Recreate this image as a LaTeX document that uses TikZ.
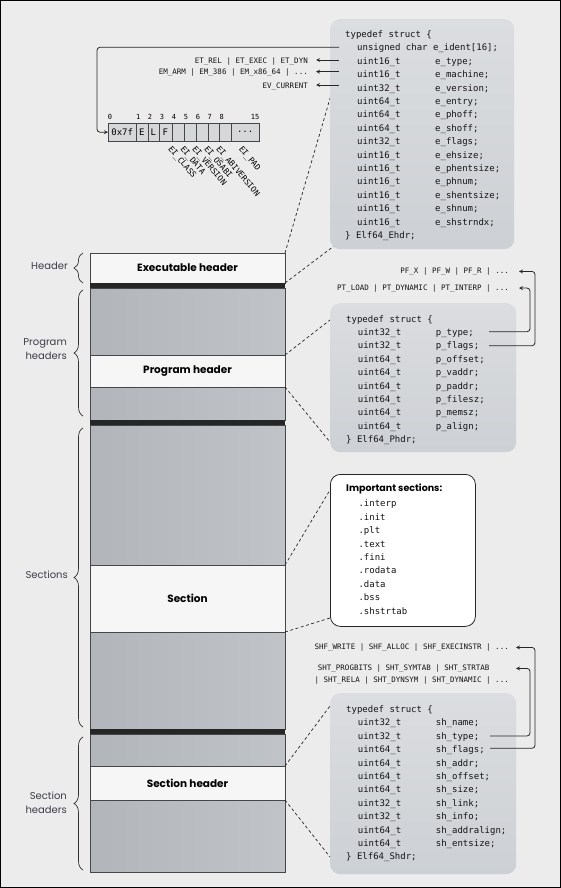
\documentclass[tikz,border=0pt]{standalone}
\usepackage{fontspec}
\setmainfont{Poppins}
\newfontfamily\codefont{DejaVu Sans Mono}
\usetikzlibrary{decorations.pathreplacing}
\newcommand\morebytes{...}
\definecolor{bgcol}{RGB}{236,236,237}
\definecolor{grayA}{RGB}{178,181,186}
\definecolor{grayB}{RGB}{192,195,200}
\definecolor{blockwhite}{RGB}{246,246,246}
\definecolor{structA}{RGB}{219,221,224}
\definecolor{structB}{RGB}{205,208,212}
\definecolor{edgecol}{RGB}{70,70,72}
\definecolor{labcol}{RGB}{60,62,72}
\definecolor{cellgray}{RGB}{214,215,217}
\begin{document}
\begin{tikzpicture}[x=1pt,y=-1pt,
    block/.style={draw=edgecol, line width=0.8pt, minimum width=195pt, inner sep=0pt, outer sep=0pt, anchor=north west},
    graybl/.style={block, left color=grayA, right color=grayB},
    whitebl/.style={block, fill=blockwhite, font=\bfseries\fontsize{10.5}{12}\selectfont},
    bar/.style={fill=black!85, minimum width=195pt, minimum height=5pt, inner sep=0pt, outer sep=0pt, anchor=north west},
    structbox/.style={top color=structA, bottom color=structB, rounded corners=10pt, inner sep=0pt, anchor=north west},
    code/.style={font=\codefont\fontsize{9}{10}\selectfont, text=black!92, inner sep=0pt, anchor=base west},
    flag/.style={font=\codefont\fontsize{7.5}{9}\selectfont, text=black!92, inner sep=0pt, anchor=base east},
    cell/.style={draw=edgecol, fill=cellgray, minimum height=18pt, inner sep=0pt, anchor=north west, font=\codefont\fontsize{9}{10}\selectfont},
    idx/.style={font=\codefont\fontsize{7}{8}\selectfont, inner sep=0pt},
    eilab/.style={font=\codefont\fontsize{8}{9}\selectfont, rotate=-50, anchor=north west, inner sep=0pt},
    side/.style={text=labcol, font=\fontsize{10}{14}\selectfont, align=right, anchor=east, inner sep=0pt},
    brace/.style={decorate, decoration={brace, amplitude=9pt}, draw=black!80, line width=0.7pt},
    dashline/.style={draw=black!85, dash pattern=on 3pt off 2.5pt, line width=0.7pt},
    ptr/.style={draw=black!85, line width=0.8pt, ->, >=stealth, rounded corners=3pt}]
  \useasboundingbox (0,0) rectangle (561,888);
  \fill[bgcol] (0,0) rectangle (561,888);

  % file layout column
  \node[whitebl, minimum height=30pt] (exech) at (90,253) {Executable header};
  \node[bar] (bar1) at (90,283) {};
  \node[graybl, minimum height=67pt] (phgray1) at (90,288) {};
  \node[whitebl, minimum height=32pt] (phblk) at (90,355) {Program header};
  \node[graybl, minimum height=33pt] (phgray2) at (90,387) {};
  \node[bar] (bar2) at (90,420) {};
  \node[graybl, minimum height=140pt] (secgray1) at (90,425) {};
  \node[whitebl, minimum height=67pt] (secblk) at (90,565) {Section};
  \node[graybl, minimum height=97pt] (secgray2) at (90,632) {};
  \node[bar] (bar3) at (90,729) {};
  \node[graybl, minimum height=32pt] (shgray1) at (90,734) {};
  \node[whitebl, minimum height=34pt] (shblk) at (90,766) {Section header};
  \node[graybl, minimum height=72pt] (shgray2) at (90,800) {};

  % braces and labels
  \draw[brace] (83,283) -- (83,253);
  \draw[brace] (83,416) -- (83,290);
  \draw[brace] (83,727) -- (83,428);
  \draw[brace] (83,870) -- (83,737);
  \node[side] (lab-hdr) at (68,266) {Header};
  \node[side] (lab-ph) at (67,349) {Program\\headers};
  \node[side] (lab-sec) at (68,575) {Sections};
  \node[side] (lab-sh) at (67,803) {Section\\headers};

  % dashed links
  \coordinate (eh-a) at (331,95);
  \coordinate (eh-b) at (334,246);
  \coordinate (ph-a) at (330,320);
  \coordinate (ph-b) at (330,442);
  \coordinate (im-a) at (330,490);
  \coordinate (im-b) at (330,618);
  \coordinate (sh-a) at (330,706);
  \coordinate (sh-b) at (330,857);
  \draw[dashline] (exech.north east) -- (eh-a);
  \draw[dashline] (exech.south east) -- (eh-b);
  \draw[dashline] (phblk.north east) -- (ph-a);
  \draw[dashline] (phblk.south east) -- (ph-b);
  \draw[dashline] (secblk.north east) -- (im-a);
  \draw[dashline] (secblk.south east) -- (im-b);
  \draw[dashline] (shblk.north east) -- (sh-a);
  \draw[dashline] (shblk.south east) -- (sh-b);

  % Elf64_Ehdr
  \node[structbox, minimum width=184pt, minimum height=230pt] (ehdr) at (330,19) {};
  \node[code] (eh-0) at (345,37.5) {typedef struct \{};
  \node[code] (eh-1) at (357,50.9) {unsigned char e\_ident[16];};
  \foreach \t/\f [count=\i from 2] in {16/type, 16/machine, 32/version, 64/entry, 64/phoff, 64/shoff, 32/flags, 16/ehsize, 16/phentsize, 16/phnum, 16/shentsize, 16/shnum, 16/shstrndx} {
    \node[code] (eh-t\i) at (357,{37.5+13.4*\i}) {uint\t\_t};
    \node[code] (eh-f\i) at (435,{37.5+13.4*\i}) {e\_\f;};
  }
  \node[code] (eh-15) at (345,238.5) {\} Elf64\_Ehdr;};

  % e_ident bytes
  \foreach \x/\w/\t/\n in {108/28/0x7f/0, 136/11.5/E/1, 147.5/11.5/L/2, 159/12.5/F/3, 171.5/12//4, 183.5/12//5, 195.5/12//6, 207.5/11.5//7, 219/12//8, 231/28/\morebytes/15}
    \node[cell, minimum width=\w pt] (id-\n) at (\x,123) {\t};
  \foreach \x/\n in {110/0, 138.3/1, 150/2, 162/3, 174/4, 186/5, 198/6, 209.7/7, 221.7/8, 255/15}
    \node[idx] (ix-\n) at (\x,116.7) {\n};
  \foreach \x/\t [count=\i] in {172.5/EI\_CLASS, 184.5/EI\_DATA, 196.5/EI\_VERSION, 208.5/EI\_OSABI, 220.5/EI\_ABIVERSION, 243/EI\_PAD}
    \node[eilab] (ei-\i) at (\x,145) {\t};

  % e_type, e_machine, e_version values
  \node[flag] (et) at (308,63.4) {ET\_REL | ET\_EXEC | ET\_DYN};
  \node[flag] (em) at (308,75) {EM\_ARM | EM\_386 | EM\_x86\_64 | ...};
  \node[flag] (ev) at (308,88.7) {EV\_CURRENT};
  \coordinate (id-src) at (339,47.3);
  \coordinate (ty-src) at (339,60);
  \coordinate (ma-src) at (339,71.7);
  \coordinate (ve-src) at (339,85);
  \draw[ptr] (id-src) -- ++(-242,0) |- (id-0.west);
  \draw[ptr, shorten >=8pt] (ty-src) -- (ty-src -| et.east);
  \draw[ptr, shorten >=8pt] (ma-src) -- (ma-src -| em.east);
  \draw[ptr, shorten >=8pt] (ve-src) -- (ve-src -| ev.east);

  % Elf64_Phdr
  \node[flag] (pf) at (509,273.4) {PF\_X | PF\_W | PF\_R | ...};
  \node[flag] (pt) at (509,290) {PT\_LOAD | PT\_DYNAMIC | PT\_INTERP | ...};
  \node[structbox, minimum width=186pt, minimum height=149pt] (phdr) at (330,303) {};
  \node[code] (ph-0) at (346,322) {typedef struct \{};
  \foreach \t/\f [count=\i] in {32/type, 32/flags, 64/offset, 64/vaddr, 64/paddr, 64/filesz, 64/memsz, 64/align} {
    \node[code] (ph-t\i) at (357.7,{322+13.4*\i}) {uint\t\_t};
    \node[code] (ph-f\i) at (435.7,{322+13.4*\i}) {p\_\f;};
  }
  \node[code] (ph-9) at (346,442.6) {\} Elf64\_Phdr;};
  \coordinate (pty-src) at (489,331.7);
  \coordinate (pfl-src) at (489,345.7);
  \draw[ptr, shorten >=10pt] (pty-src) -- ++(41,0) |- (pt.east);
  \draw[ptr, shorten >=10pt] (pfl-src) -- ++(46,0) |- (pf.east);

  % important sections
  \node[draw=black!85, fill=white, line width=0.8pt, rounded corners=10pt, minimum width=145pt, minimum height=152pt, inner sep=0pt, anchor=north west] (imp) at (330,474) {};
  \node[inner sep=0pt, anchor=base west, font=\bfseries\fontsize{9.5}{11}\selectfont] (imp-0) at (346,491) {Important sections:};
  \foreach \s [count=\i from 0] in {.interp, .init, .plt, .text, .fini, .rodata, .data, .bss, .shstrtab}
    \node[code] (imp-s\i) at (358.3,{506.8+13.4*\i}) {\s};

  % Elf64_Shdr
  \node[flag] (shf) at (509,649.4) {SHF\_WRITE | SHF\_ALLOC | SHF\_EXECINSTR | ...};
  \node[flag, anchor=base west] (sht1) at (317.7,670.4) {SHT\_PROGBITS | SHT\_SYMTAB | SHT\_STRTAB};
  \node[flag] (sht2) at (509,682.7) {| SHT\_RELA | SHT\_DYNSYM | SHT\_DYNAMIC | ...};
  \node[structbox, minimum width=186pt, minimum height=181pt] (shdr) at (330,693) {};
  \node[code] (sh-0) at (346,712.5) {typedef struct \{};
  \foreach \t/\f [count=\i] in {32/name, 32/type, 64/flags, 64/addr, 64/offset, 64/size, 32/link, 32/info, 64/addralign, 64/entsize} {
    \node[code] (sh-t\i) at (357.7,{712.5+13.4*\i}) {uint\t\_t};
    \node[code] (sh-f\i) at (435.7,{712.5+13.4*\i}) {sh\_\f;};
  }
  \node[code] (sh-11) at (346,859.9) {\} Elf64\_Shdr;};
  \coordinate (sty-src) at (490,736);
  \coordinate (sfl-src) at (490,748.3);
  \draw[ptr, shorten >=7pt] (sty-src) -- ++(40,0) |- (sht1.east -| sht2.east);
  \draw[ptr, shorten >=7pt] (sfl-src) -- ++(45,0) |- (shf.east);

  \draw[black, line width=1pt] (0.5,0.5) rectangle (560.5,887.5);
\end{tikzpicture}
\end{document}
